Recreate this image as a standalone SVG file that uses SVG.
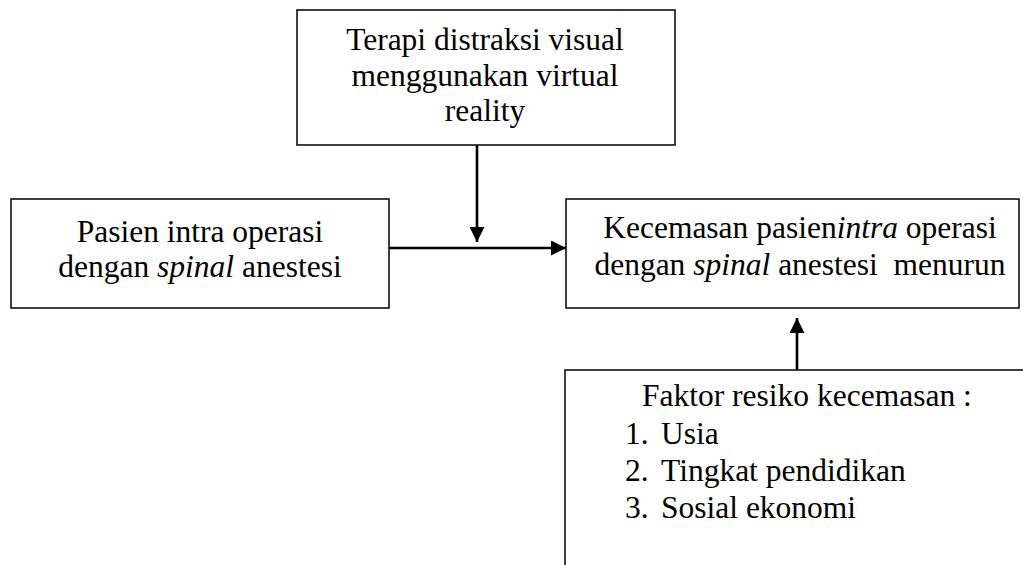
<svg xmlns="http://www.w3.org/2000/svg" width="1023" height="565" viewBox="0 0 1023 565">
<style>
.box{fill:#fff;stroke:#000;stroke-width:1.5}
.t{font-family:"Liberation Serif","Times New Roman",serif;font-size:31.5px;fill:#000}
.c{text-anchor:middle}
.i{font-style:italic}
.conn{stroke:#000;stroke-width:2.6;fill:none}
</style>
<defs>
<marker id="ah" markerUnits="userSpaceOnUse" markerWidth="15" markerHeight="15" refX="15" refY="7.5" orient="auto">
<path d="M0,0 L15,7.5 L0,15 Z" fill="#000"/>
</marker>
</defs>
<rect width="1023" height="565" fill="#fff"/>
<g id="node-terapi">
<rect class="box" x="297" y="10" width="378" height="135"/>
<text class="t c" x="485" y="50">Terapi distraksi visual</text>
<text class="t c" x="485" y="86">menggunakan virtual</text>
<text class="t c" x="485" y="121">reality</text>
</g>
<g id="node-pasien">
<rect class="box" x="11" y="199" width="378" height="109"/>
<text class="t c" x="200" y="242">Pasien intra operasi</text>
<text class="t c" x="200" y="277">dengan <tspan class="i">spinal</tspan> anestesi</text>
</g>
<g id="node-kecemasan">
<rect class="box" x="566" y="199" width="453" height="109"/>
<text class="t c" x="800" y="238">Kecemasan pasien<tspan class="i">intra</tspan> operasi</text>
<text class="t c" x="800" y="275" xml:space="preserve">dengan <tspan class="i">spinal</tspan> anestesi  menurun</text>
</g>
<g id="node-faktor">
<path class="box" d="M565,566 V370 H1024" fill="none"/>
<text class="t" x="642" y="406">Faktor resiko kecemasan :</text>
<text class="t" x="625" y="444">1.</text><text class="t" x="661" y="444">Usia</text>
<text class="t" x="625" y="481">2.</text><text class="t" x="661" y="481">Tingkat pendidikan</text>
<text class="t" x="625" y="518">3.</text><text class="t" x="661" y="518">Sosial ekonomi</text>
</g>
<g id="connectors">
<line class="conn" x1="477" y1="145" x2="477" y2="242" marker-end="url(#ah)"/>
<line class="conn" x1="389" y1="248" x2="566" y2="248" marker-end="url(#ah)"/>
<line class="conn" x1="797" y1="370" x2="797" y2="318" marker-end="url(#ah)"/>
</g>
</svg>
